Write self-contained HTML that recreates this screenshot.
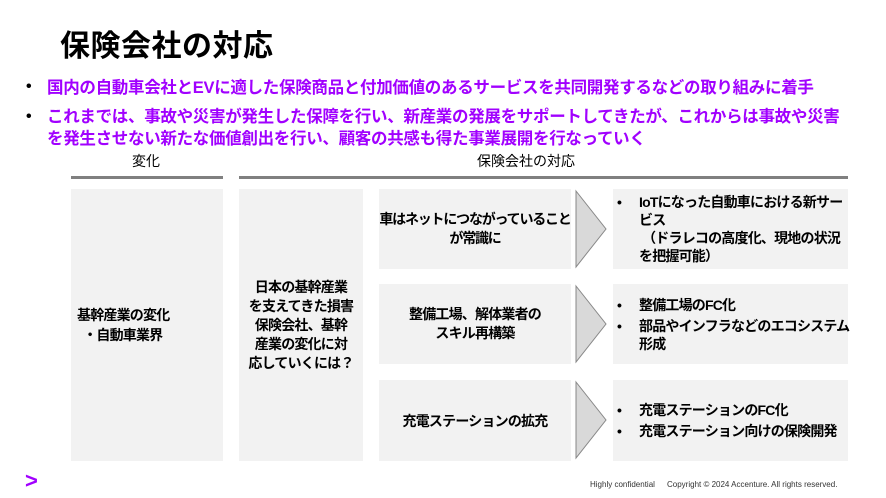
<!DOCTYPE html>
<html><head><meta charset="utf-8"><style>
body{margin:0;width:886px;height:498px;background:#fff;position:relative;overflow:hidden;font-family:"Liberation Sans","Noto Sans CJK JP",sans-serif;}
.a{position:absolute;}
.t{font-weight:bold;font-size:30px;left:60px;top:21px;color:#000;letter-spacing:0.5px}
.p{color:#a100ff;font-weight:bold;font-size:16.5px;line-height:22px;left:47px;letter-spacing:-0.3px;white-space:nowrap}
.dot{color:#000;font-weight:bold;font-size:16px;left:26px;}
.box{background:#f2f2f2;display:flex;align-items:center;font-weight:bold;font-size:14px;color:#000;letter-spacing:-0.8px}
.hl{background:#808080;height:3px;top:176px;}
.h{font-size:14px;top:151px;}
ul{margin:0;padding:0 0 0 26px;list-style:none;white-space:nowrap}
li{position:relative;line-height:18px;margin:3px 0;}
li:before{content:"•";position:absolute;left:-22px;}
</style></head><body>
<div class="a t">保険会社の対応</div>
<div class="a dot" style="top:78px">•</div>
<div class="a dot" style="top:108px">•</div>
<div class="a p" style="top:77px">国内の自動車会社とEVに適した保険商品と付加価値のあるサービスを共同開発するなどの取り組みに着手</div>
<div class="a p" style="top:106px">これまでは、事故や災害が発生した保障を行い、新産業の発展をサポートしてきたが、これからは事故や災害<br>を発生させない新たな価値創出を行い、顧客の共感も得た事業展開を行なっていく</div>
<div class="a h" style="left:132px">変化</div>
<div class="a h" style="left:477px">保険会社の対応</div>
<div class="a hl" style="left:71px;width:152px"></div>
<div class="a hl" style="left:239px;width:609px"></div>
<div class="a box" style="left:71px;top:189px;width:152px;height:272px;"><div style="padding-left:6px;line-height:20px">基幹産業の変化<br>&nbsp;&nbsp;・自動車業界</div></div>
<div class="a box" style="left:239px;top:189px;width:124px;height:272px;justify-content:center;text-align:center;line-height:19px">日本の基幹産業<br>を支えてきた損害<br>保険会社、基幹<br>産業の変化に対<br>応していくには？</div>
<div class="a box" style="left:379px;top:189px;width:192px;height:80px;justify-content:center;text-align:center;line-height:19px;letter-spacing:-1.2px">車はネットにつながっていること<br>が常識に</div>
<div class="a box" style="left:379px;top:284px;width:192px;height:80px;justify-content:center;text-align:center;line-height:19px">整備工場、解体業者の<br>スキル再構築</div>
<div class="a box" style="left:379px;top:380px;width:192px;height:81px;justify-content:center;text-align:center">充電ステーションの拡充</div>
<svg class="a" style="left:574px;top:189px" width="36" height="272">
<polygon points="2,2 32,40 2,78" fill="#d9d9d9" stroke="#888" stroke-width="1"/>
<polygon points="2,97 32,135 2,173" fill="#d9d9d9" stroke="#888" stroke-width="1"/>
<polygon points="2,193 32,231 2,269" fill="#d9d9d9" stroke="#888" stroke-width="1"/>
</svg>
<div class="a box" style="left:613px;top:189px;width:235px;height:80px"><ul><li>IoTになった自動車における新サー<br>ビス<br>&nbsp;（ドラレコの高度化、現地の状況<br>を把握可能）</li></ul></div>
<div class="a box" style="left:613px;top:284px;width:235px;height:80px"><ul><li>整備工場のFC化</li><li>部品やインフラなどのエコシステム<br>形成</li></ul></div>
<div class="a box" style="left:613px;top:380px;width:235px;height:81px"><ul><li>充電ステーションのFC化</li><li>充電ステーション向けの保険開発</li></ul></div>
<div class="a" style="left:25px;top:468px;color:#a100ff;font-weight:bold;font-size:22px">&gt;</div>
<div class="a" style="left:590px;top:480px;font-size:8px;color:#333">Highly confidential</div>
<div class="a" style="left:667px;top:480px;font-size:8px;color:#333">Copyright © 2024 Accenture. All rights reserved.</div>
</body></html>
